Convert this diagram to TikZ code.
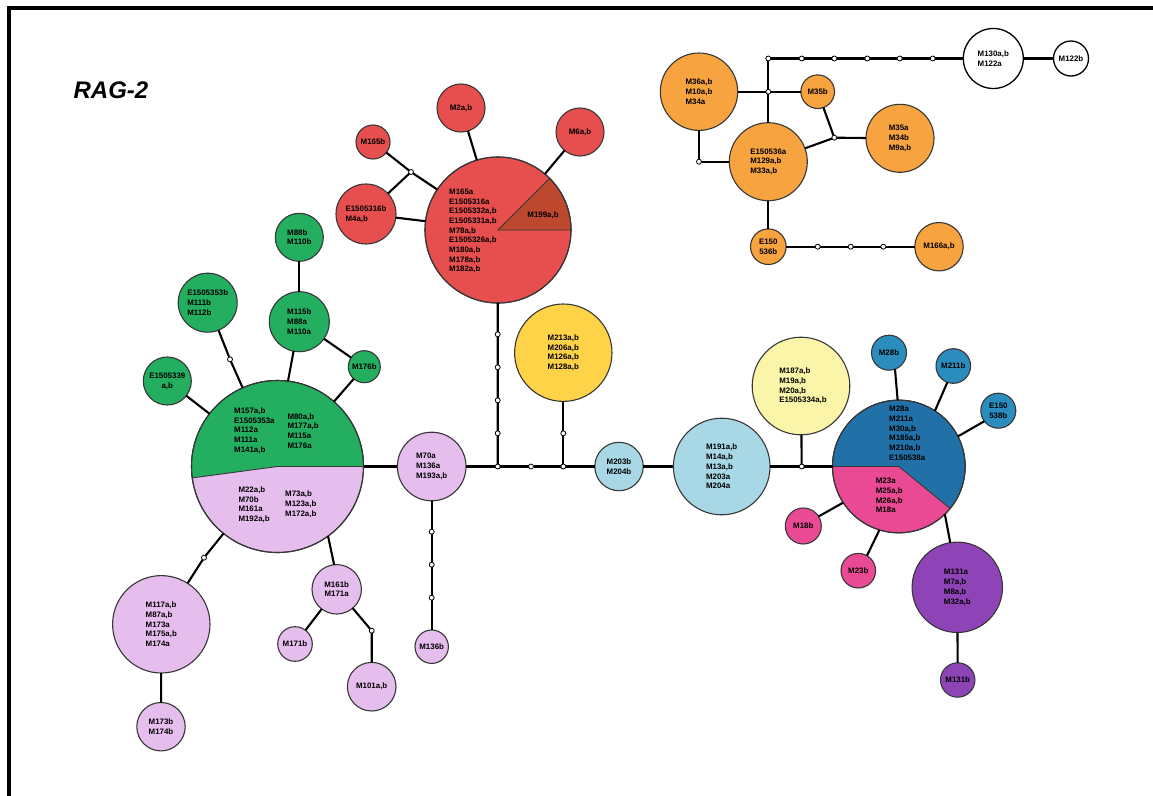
\documentclass[tikz,border=0pt]{standalone}
\usepackage{fontspec}
\setmainfont{Liberation Sans}
\definecolor{redc}{RGB}{231,78,78}
\definecolor{redd}{RGB}{190,72,46}
\definecolor{greenc}{RGB}{35,174,96}
\definecolor{lilac}{RGB}{230,190,238}
\definecolor{orangec}{RGB}{247,163,63}
\definecolor{yellowc}{RGB}{255,211,71}
\definecolor{paley}{RGB}{251,245,170}
\definecolor{lblue}{RGB}{168,216,230}
\definecolor{blued}{RGB}{33,113,168}
\definecolor{bluec}{RGB}{43,140,190}
\definecolor{magc}{RGB}{234,74,148}
\definecolor{purc}{RGB}{142,68,182}
\definecolor{edgegray}{RGB}{55,55,55}
\newcommand\hf{\fontsize{7.9}{9.7}\selectfont\bfseries}
\tikzset{
  hap/.style={circle, draw=edgegray, line width=1.1pt, inner sep=0pt, outer sep=0pt, font=\hf, align=left, text=black},
  junc/.style={circle, draw=black, fill=white, line width=0.8pt, inner sep=0pt, outer sep=0pt, minimum size=5pt},
  conn/.style={line width=2.1pt, black},
  lbl/.style={font=\hf, align=left, inner sep=0pt, anchor=west, text=black},
  sect/.style={draw=edgegray, line width=0.9pt},
}
\begin{document}
\begin{tikzpicture}[x=1pt,y=-1pt]
\useasboundingbox (0,0) rectangle (1153,795);
\fill[white] (0,0) rectangle (1153,795);
% frame
\draw[line width=4pt] (9.3,820) -- (9.3,8) -- (1170,8);
\node[font=\fontsize{24}{27}\selectfont\bfseries\itshape, inner sep=0pt] (title) at (111,90.7) {RAG-2};

% ---------- red group ----------
\node[hap, fill=redc, minimum size=146pt] (R1) at (498,230) {};
\fill[redd, sect] (R1.center) -- ++(0:73) arc[start angle=0, end angle=-45, radius=73] -- cycle;
\draw[edgegray, line width=1.1pt] (R1.center) circle[radius=73];
\node[lbl] (R1t) at (449,231) {M165a\\E1505316a\\E1505332a,b\\E1505331a,b\\M78a,b\\E1505326a,b\\M180a,b\\M178a,b\\M182a,b};
\node[font=\hf, inner sep=0pt] (R1w) at (543,215.3) {M199a,b};
\node[hap, fill=redc, minimum size=48pt] (M2) at (461,108) {M2a,b};
\node[hap, fill=redc, minimum size=48pt] (M6) at (580,132) {M6a,b};
\node[hap, fill=redc, minimum size=34pt] (M165b) at (373,142) {M165b};
\node[hap, fill=redc, minimum size=60pt] (E16b) at (366,214) {E1505316b\\M4a,b};
\node[junc] (jr) at (411,172) {};

% ---------- green / lilac pie ----------
\node[hap, fill=lilac, minimum size=172pt] (G1) at (277.5,466.5) {};
\fill[greenc, sect] (G1.center) -- ++(0:86) arc[start angle=0, end angle=-187.6, radius=86] -- cycle;
\draw[edgegray, line width=1.1pt] (G1.center) circle[radius=86];
\node[lbl] (G1a) at (234,430.5) {M157a,b\\E1505353a\\M112a\\M111a\\M141a,b};
\node[lbl] (G1b) at (287.3,430.8) {M80a,b\\M177a,b\\M115a\\M176a};
\node[lbl] (G1c) at (238.3,504.7) {M22a,b\\M70b\\M161a\\M192a,b};
\node[lbl] (G1d) at (285,504.2) {M73a,b\\M123a,b\\M172a,b};

\node[hap, fill=greenc, minimum size=48pt] (M88b) at (299.3,237.3) {M88b\\M110b};
\node[hap, fill=greenc, minimum size=60pt] (M115b) at (299.3,321.7) {M115b\\M88a\\M110a};
\node[hap, fill=greenc, minimum size=59pt] (E53b) at (207.7,302.7) {E1505353b\\M111b\\M112b};
\node[hap, fill=greenc, minimum size=32pt] (M176b) at (364.3,366.7) {M176b};
\node[hap, fill=greenc, minimum size=48pt, align=center] (E39) at (167.3,381) {E1505339\\a,b};
\node[junc] (jg) at (230,359.3) {};

% ---------- lilac ----------
\node[hap, fill=lilac, minimum size=68.6pt] (M70) at (431.7,466.5) {M70a\\M136a\\M193a,b};
\node[hap, fill=lilac, minimum size=33.4pt] (M136b) at (431.7,646.7) {M136b};
\node[junc] (jp1) at (431.7,531.7) {};
\node[junc] (jp2) at (431.7,564.7) {};
\node[junc] (jp3) at (431.7,597.7) {};
\node[hap, fill=lilac, minimum size=49.4pt, align=center] (M161b) at (336.7,589.3) {M161b\\M171a};
\node[hap, fill=lilac, minimum size=34.6pt] (M171b) at (295,644) {M171b};
\node[hap, fill=lilac, minimum size=48.6pt] (M101) at (371.7,686.7) {M101a,b};
\node[junc] (jp4) at (371.7,630.7) {};
\node[junc] (jp5) at (204,557.7) {};
\node[hap, fill=lilac, minimum size=97.4pt] (M117) at (161.3,624.3) {M117a,b\\M87a,b\\M173a\\M175a,b\\M174a};
\node[hap, fill=lilac, minimum size=48.4pt] (M173b) at (161,726.7) {M173b\\M174b};

% ---------- centre line ----------
\node[junc] (jA) at (497.7,466.5) {};
\node[junc] (jB) at (531,466.5) {};
\node[junc] (jC) at (563.3,466.5) {};
\node[junc] (jr1) at (497.7,334.3) {};
\node[junc] (jr2) at (497.7,367.3) {};
\node[junc] (jr3) at (497.7,400.3) {};
\node[junc] (jr4) at (497.7,433.3) {};
\node[hap, fill=yellowc, minimum size=97.4pt] (M213) at (563.3,352.7) {M213a,b\\M206a,b\\M126a,b\\M128a,b};
\node[junc] (jy) at (563.3,433.3) {};
\node[hap, fill=lblue, minimum size=48.4pt] (M203) at (619,466.5) {M203b\\M204b};
\node[hap, fill=lblue, minimum size=96.6pt] (M191) at (721.7,466.5) {M191a,b\\M14a,b\\M13a,b\\M203a\\M204a};
\node[hap, fill=paley, minimum size=97.6pt] (M187) at (801,386) {\hspace*{4pt}M187a,b\\\hspace*{4pt}M19a,b\\\hspace*{4pt}M20a,b\\\hspace*{4pt}E1505334a,b};
\node[junc] (jD) at (801.7,466.5) {};

% ---------- blue / magenta pie ----------
\node[hap, fill=magc, minimum size=132.6pt] (B1) at (898.8,466.5) {};
\fill[blued, sect] (B1.center) -- ++(39.3:66.3) arc[start angle=39.3, end angle=-180, radius=66.3] -- cycle;
\draw[edgegray, line width=1.1pt] (B1.center) circle[radius=66.3];
\node[lbl] (B1a) at (889,433.2) {M28a\\M211a\\M30a,b\\M185a,b\\M210a,b\\E150538a};
\node[lbl] (B1b) at (875.7,495.7) {M23a\\M25a,b\\M26a,b\\M18a};
\node[hap, fill=bluec, minimum size=35pt] (M28b) at (889,352.7) {M28b};
\node[hap, fill=bluec, minimum size=34.6pt] (M211b) at (953.3,366) {M211b};
\node[hap, fill=bluec, minimum size=35pt, align=center] (E38b) at (998.3,410.7) {E150\\538b};
\node[hap, fill=magc, minimum size=36pt] (M18b) at (803.3,526) {M18b};
\node[hap, fill=magc, minimum size=34.6pt] (M23b) at (858.3,570.7) {M23b};
\node[hap, fill=purc, minimum size=90.4pt] (M131a) at (957.3,587.3) {M131a\\M7a,b\\M8a,b\\M32a,b};
\node[hap, fill=purc, minimum size=34.4pt] (M131b) at (957.7,680) {M131b};

% ---------- orange group ----------
\node[hap, fill=orangec, minimum size=77.4pt] (M36) at (699,91.7) {M36a,b\\M10a,b\\M34a};
\node[hap, fill=orangec, minimum size=33.6pt] (M35b) at (817.7,91.7) {M35b};
\node[hap, fill=orangec, minimum size=78pt] (E36a) at (768.3,161.7) {E150536a\\M129a,b\\M33a,b};
\node[hap, fill=orangec, minimum size=68pt] (M35a) at (900,138.3) {M35a\\M34b\\M9a,b};
\node[hap, fill=orangec, minimum size=35.6pt, align=center] (E36b) at (768.3,246.7) {E150\\536b};
\node[hap, fill=orangec, minimum size=48.4pt] (M166) at (939,246.7) {M166a,b};
\node[hap, fill=white, draw=black, line width=1.3pt, minimum size=60pt] (M130) at (993.3,58.5) {M130a,b\\M122a};
\node[hap, fill=white, draw=black, line width=1.3pt, minimum size=35pt] (M122b) at (1071,58.5) {M122b};
\node[junc] (jo1) at (768.3,58.5) {};
\node[junc] (jo2) at (768.3,91.7) {};
\node[junc] (jo3) at (699,161.7) {};
\node[junc] (jo4) at (834.3,137.7) {};
\node[junc] (jt1) at (801.7,58.5) {};
\node[junc] (jt2) at (834.3,58.5) {};
\node[junc] (jt3) at (867.3,58.5) {};
\node[junc] (jt4) at (899.7,58.5) {};
\node[junc] (jt5) at (932.7,58.5) {};
\node[junc] (jb1) at (817.7,246.7) {};
\node[junc] (jb2) at (850.7,246.7) {};
\node[junc] (jb3) at (883.3,246.7) {};

% ---------- connectors ----------
% red
\draw[conn] (R1) -- (M2);
\draw[conn] (R1) -- (M6);
\draw[conn] (R1) -- (E16b);
\draw[conn] (M165b) -- (jr);
\draw[conn] (jr) -- (E16b);
\draw[conn] (jr) -- (R1);
\draw[conn] (R1) -- (jr1) -- (jr2) -- (jr3) -- (jr4) -- (jA);
% green
\draw[conn] (M88b) -- (M115b);
\draw[conn] (M115b.-101.3) -- (G1.83.5);
\draw[conn] (M115b) -- (M176b);
\draw[conn] (M176b) -- (G1);
\draw[conn] (E53b) -- (jg) -- (G1);
\draw[conn] (E39) -- (G1);
% main line
\draw[conn] (G1) -- (M70);
\draw[conn] (M70) -- (jA) -- (jB) -- (jC) -- (M203);
\draw[conn] (M203) -- (M191);
\draw[conn] (M191) -- (jD) -- (B1);
\draw[conn] (jC) -- (jy) -- (M213);
\draw[conn] (jD) -- (M187);
% lilac
\draw[conn] (M70) -- (jp1) -- (jp2) -- (jp3) -- (M136b);
\draw[conn] (G1.-54.1) -- (M161b.96.4);
\draw[conn] (M161b) -- (M171b);
\draw[conn] (M161b) -- (jp4) -- (M101);
\draw[conn] (G1) -- (jp5) -- (M117);
\draw[conn] (M117) -- (M173b);
% blue
\draw[conn] (B1.91.5) -- (M28b.-70);
\draw[conn] (B1.57.3) -- (M211b.-110.9);
\draw[conn] (B1.27.3) -- (E38b.-143.7);
\draw[conn] (B1.-147.9) -- (M18b.32.8);
\draw[conn] (B1.-107.9) -- (M23b.60.8);
\draw[conn] (B1.-46.4) -- (M131a.99.4);
\draw[conn] (M131a) -- (M131b);
% orange
\draw[conn] (jo1) -- (jo2) -- (E36a);
\draw[conn] (M36) -- (jo2) -- (M35b);
\draw[conn] (M36) -- (jo3) -- (E36a);
\draw[conn] (M35b) -- (jo4) -- (M35a);
\draw[conn] (jo4) -- (E36a);
\draw[conn] (E36a) -- (E36b);
\draw[conn] (E36b) -- (jb1) -- (jb2) -- (jb3) -- (M166);
\draw[conn] (jo1) -- (jt1) -- (jt2) -- (jt3) -- (jt4) -- (jt5) -- (M130);
\draw[conn] (M130) -- (M122b);
\end{tikzpicture}
\end{document}
